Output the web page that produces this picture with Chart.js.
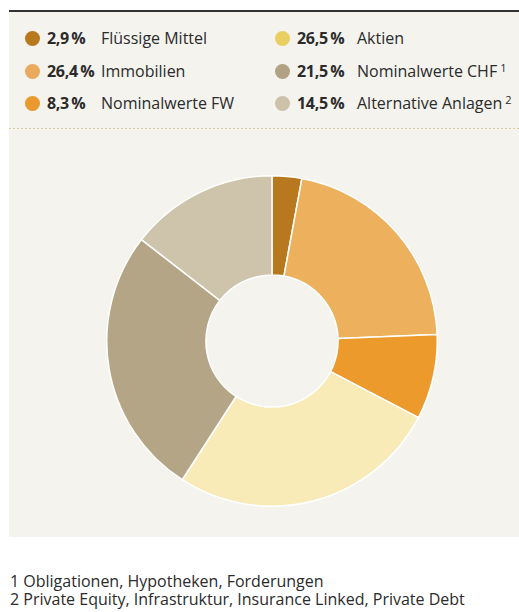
<!DOCTYPE html>
<html lang="de">
<head>
  <meta charset="UTF-8">
  <title>Anlagestruktur</title>
  <script src="https://cdn.jsdelivr.net/npm/chart.js@4.4.1/dist/chart.umd.min.js"></script>
  <style>
    body {
      margin: 0;
      width: 519px;
      height: 612px;
      background: #ffffff;
      font-family: "Open Sans", sans-serif;
      color: #2b2b2b;
      position: relative;
      overflow: hidden;
    }
    .panel {
      position: absolute;
      left: 9px;
      top: 10px;
      width: 510px;
      height: 527px;
      background: #f4f3ee;
      border-top: 2px solid #333;
      box-sizing: border-box;
    }
    .sep {
      position: absolute;
      left: 0;
      top: 116px;
      width: 510px;
      height: 1px;
      background: repeating-linear-gradient(to right, #d8cdaa 0 2px, transparent 2px 4px);
    }
    .item {
      position: absolute;
      height: 20px;
      line-height: 20px;
      font-size: 16px;
      white-space: nowrap;
    }
    .dot {
      position: absolute;
      left: 0;
      top: 3px;
      width: 15px;
      height: 15px;
      border-radius: 50%;
    }
    .pct {
      position: absolute;
      font-weight: bold;
      letter-spacing: -0.3px;
    }
    .lbl {
      position: absolute;
    }
    .lbl sup {
      font-size: 11px;
      vertical-align: 0;
      position: relative;
      top: -5px;
      margin-left: 3px;
    }
    #wrap {
      position: absolute;
      left: 106px;
      top: 175px;
      width: 332px;
      height: 332px;
    }
    .notes {
      position: absolute;
      left: 10px;
      top: 573px;
      font-size: 16px;
      line-height: 17.5px;
      color: #2b2b2b;
      white-space: nowrap;
    }
  </style>
</head>
<body>
  <div class="panel">
    <div id="legend"></div>
    <div class="sep"></div>
  </div>
  <div id="wrap"><canvas id="donut"></canvas></div>
  <div class="notes" id="notes"></div>

  <script>
    // legend, as printed
    const legendLabels = ['Flüssige Mittel', 'Immobilien', 'Nominalwerte FW', 'Aktien', 'Nominalwerte CHF', 'Alternative Anlagen'];
    const legendValues = [2.9, 26.4, 8.3, 26.5, 21.5, 14.5];
    const legendColors = ['#b8781e', '#eaa95c', '#ea992c', '#e9cf62', '#b1a283', '#cbc2a9'];
    const legendNotes = ['', '', '', '', '1', '2'];

    // slices as drawn, clockwise from the top
    const sliceLabels = ['Flüssige Mittel', 'Immobilien', 'Nominalwerte FW', 'Aktien', 'Nominalwerte CHF', 'Alternative Anlagen'];
    const sliceValues = [2.9, 21.5, 8.3, 26.5, 26.4, 14.5];
    const sliceColors = ['#b8781e', '#edb05c', '#ec9a2b', '#f8ebb8', '#b4a586', '#cec3ab'];

    const footnotes = [
      '1 Obligationen, Hypotheken, Forderungen',
      '2 Private Equity, Infrastruktur, Insurance Linked, Private Debt'
    ];

    function fmt(v) {
      return v.toFixed(1).replace('.', ',') + '\u2009%';
    }

    // build legend: two columns of three
    const legend = document.getElementById('legend');
    legendLabels.forEach((name, i) => {
      const col = Math.floor(i / 3);
      const row = i % 3;
      const item = document.createElement('div');
      item.className = 'item';
      item.style.left = (col === 0 ? 16 : 266) + 'px';
      item.style.top = (16 + row * 32.5) + 'px';
      const note = legendNotes[i] ? '<sup>' + legendNotes[i] + '</sup>' : '';
      item.innerHTML =
        '<span class="dot" style="background:' + legendColors[i] + '"></span>' +
        '<span class="pct" style="left:22px">' + fmt(legendValues[i]) + '</span>' +
        '<span class="lbl" style="left:' + (col === 0 ? 76 : 82) + 'px">' + name + note + '</span>';
      legend.appendChild(item);
    });

    document.getElementById('notes').innerHTML = footnotes.join('<br>');

    new Chart(document.getElementById('donut'), {
      type: 'doughnut',
      data: {
        labels: sliceLabels,
        datasets: [{
          data: sliceValues,
          backgroundColor: sliceColors,
          borderColor: '#ffffff',
          borderWidth: 1.5
        }]
      },
      options: {
        responsive: true,
        maintainAspectRatio: false,
        animation: false,
        cutout: '40%',
        layout: { padding: 0 },
        plugins: {
          legend: { display: false },
          tooltip: { enabled: false }
        }
      }
    });
  </script>
</body>
</html>
